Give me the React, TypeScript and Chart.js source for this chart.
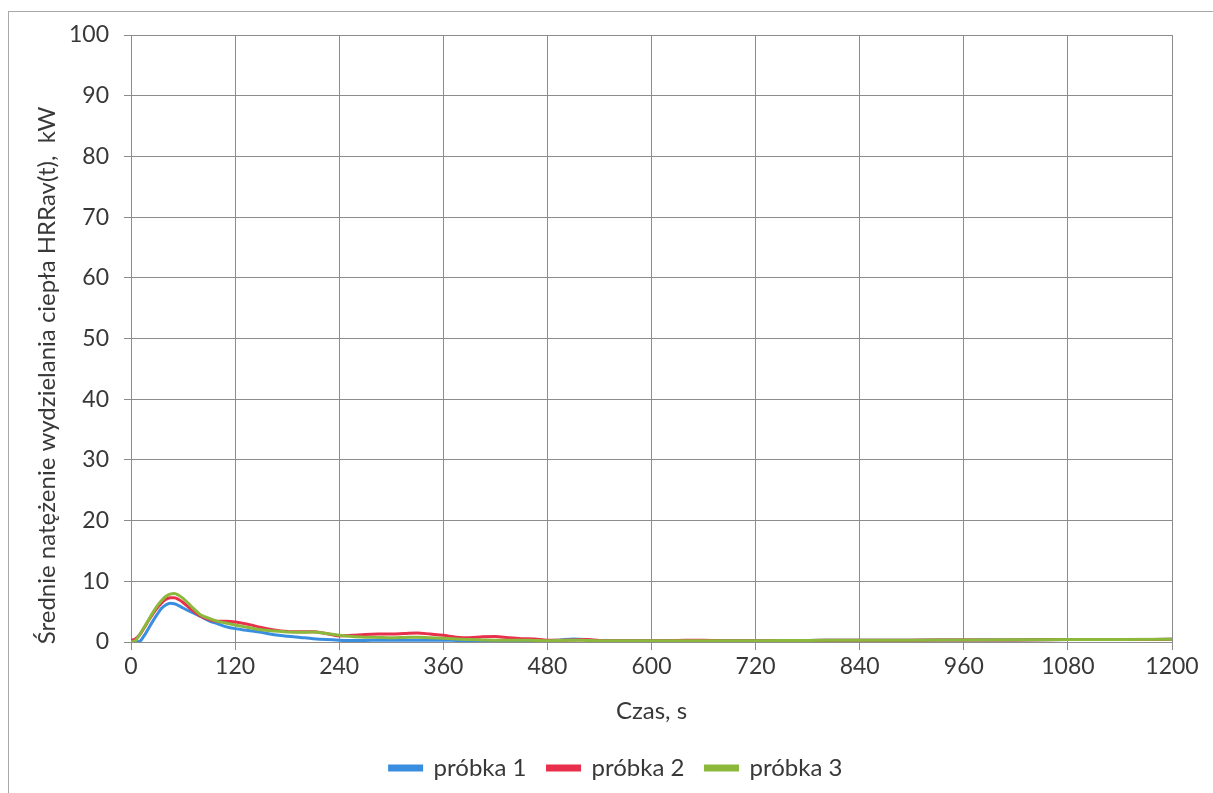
import React, { useEffect, useRef } from 'react';
import { Chart, registerables } from 'chart.js';

Chart.register(...registerables);

// Time axis (s)
const times = [
  0, 5, 10, 15, 20, 25, 30, 35, 40, 45, 50, 55, 60,
  70, 80, 90, 100, 110, 120,
  135, 150, 165, 180, 195, 210, 225, 240, 255, 270, 285, 300, 315, 330,
  345, 360, 375, 390, 405, 420, 435, 450, 465, 480, 495, 510, 525, 540,
  570, 600, 630, 660, 690, 720,
  780, 840, 900, 960, 1020, 1080, 1140, 1200,
];

// HRRav(t) values, kW
const probka1 = [
  0, 0, 0.1, 1.0, 2.2, 3.4, 4.5, 5.5, 6.1, 6.4, 6.3, 6.0, 5.6,
  4.9, 4.2, 3.5, 3.0, 2.5, 2.2,
  1.9, 1.6, 1.2, 0.95, 0.75, 0.55, 0.4, 0.3, 0.25, 0.25, 0.3, 0.3, 0.3, 0.3,
  0.3, 0.3, 0.25, 0.2, 0.2, 0.2, 0.15, 0.15, 0.15, 0.2, 0.35, 0.5, 0.4, 0.2,
  0.2, 0.2, 0.2, 0.2, 0.2, 0.2,
  0.25, 0.3, 0.3, 0.35, 0.35, 0.4, 0.4, 0.45,
];

const probka2 = [
  0.3, 0.5, 1.2, 2.3, 3.5, 4.6, 5.6, 6.4, 7.0, 7.3, 7.3, 7.0, 6.5,
  5.3, 4.3, 3.7, 3.4, 3.4, 3.3,
  2.9, 2.4, 2.0, 1.75, 1.7, 1.7, 1.4, 1.0, 1.1, 1.25, 1.3, 1.3, 1.4, 1.5,
  1.3, 1.1, 0.8, 0.7, 0.85, 0.9, 0.7, 0.55, 0.5, 0.3, 0.3, 0.35, 0.4, 0.25,
  0.2, 0.2, 0.25, 0.3, 0.2, 0.2,
  0.25, 0.3, 0.3, 0.35, 0.35, 0.4, 0.4, 0.45,
];

const probka3 = [
  0, 0.2, 1.2, 2.4, 3.6, 4.8, 5.9, 6.8, 7.5, 7.9, 8.0, 7.7, 7.2,
  5.8, 4.5, 3.9, 3.4, 3.1, 2.8,
  2.4, 2.0, 1.8, 1.65, 1.6, 1.65, 1.4, 1.1, 0.9, 0.8, 0.75, 0.7, 0.75, 0.8,
  0.7, 0.6, 0.5, 0.4, 0.35, 0.3, 0.3, 0.3, 0.25, 0.2, 0.25, 0.3, 0.25, 0.2,
  0.2, 0.2, 0.2, 0.2, 0.2, 0.22,
  0.25, 0.3, 0.3, 0.35, 0.38, 0.4, 0.42, 0.45,
];

const seriesLabels = ['próbka 1', 'próbka 2', 'próbka 3'];
const seriesColors = ['#3a8ee0', '#e8304c', '#8cb83c'];

const xMin = 0;
const xMax = 1200;
const xStep = 120;
const yMin = 0;
const yMax = 100;
const yStep = 10;

const xTitle = 'Czas, s';
const yTitle = 'Średnie natężenie wydzielania ciepła HRRav(t),  kW';

const FONT = 'Lato, Calibri, Carlito, "Open Sans", sans-serif';
const TEXT = '#383838';
const GRID = '#8c8c8c';

const yTitlePlugin = {
  id: 'yTitleCustom',
  afterDraw(chart: any) {
    const { ctx, chartArea } = chart;
    ctx.save();
    ctx.translate(47, (chartArea.top + chartArea.bottom) / 2 + 37);
    ctx.rotate(-Math.PI / 2);
    ctx.font = `24px ${FONT}`;
    ctx.fillStyle = TEXT;
    ctx.textAlign = 'center';
    ctx.textBaseline = 'middle';
    ctx.fillText(yTitle, 0, 0);
    ctx.restore();
  },
};

export default function App() {
  const canvasRef = useRef<HTMLCanvasElement | null>(null);

  useEffect(() => {
    let chart: Chart | null = null;
    let cancelled = false;
    const build = () => {
      if (cancelled || !canvasRef.current) return;
      const series = [probka1, probka2, probka3];
      chart = new Chart(canvasRef.current, {
        type: 'line',
        data: {
          datasets: series.map((vals, i) => ({
            label: seriesLabels[i],
            data: vals.map((y, j) => ({ x: times[j], y })),
            borderColor: seriesColors[i],
            backgroundColor: seriesColors[i],
            borderWidth: 3,
            pointRadius: 0,
            cubicInterpolationMode: 'monotone' as const,
            order: 3 - i,
          })),
        },
        options: {
          animation: false,
          responsive: false,
          maintainAspectRatio: false,
          layout: { padding: { left: 60, right: 41, top: 35, bottom: 3 } },
          plugins: {
            tooltip: { enabled: false },
            legend: {
              position: 'bottom',
              labels: {
                font: { family: FONT, size: 24 },
                color: TEXT,
                boxWidth: 32,
                boxHeight: 4,
                padding: 21,
                sort: (a: any, b: any) => a.datasetIndex - b.datasetIndex,
              },
            },
          },
          scales: {
            x: {
              type: 'linear',
              min: xMin,
              max: xMax,
              afterFit: (s: any) => { s.height = 93; },
              ticks: {
                stepSize: xStep,
                font: { family: FONT, size: 23 },
                color: TEXT,
                padding: 3,
                maxRotation: 0,
                callback: (v: any) => String(v),
              },
              grid: { color: GRID, lineWidth: 1, tickLength: 8, tickColor: GRID },
              border: { color: GRID, width: 1 },
              title: {
                display: true,
                text: xTitle,
                font: { family: FONT, size: 24 },
                color: TEXT,
                padding: { top: 0, bottom: 9 },
              },
            },
            y: {
              type: 'linear',
              min: yMin,
              max: yMax,
              afterFit: (s: any) => { s.width = 71; },
              ticks: {
                stepSize: yStep,
                font: { family: FONT, size: 23 },
                color: TEXT,
                padding: 15,
                callback: (v: any) => String(v),
              },
              grid: { color: GRID, lineWidth: 1, tickLength: 7, tickColor: GRID },
              border: { color: GRID, width: 1 },
              title: { display: false },
            },
          },
        },
        plugins: [yTitlePlugin],
      } as any);
    };
    const fonts: any = (document as any).fonts;
    if (fonts && fonts.load) {
      Promise.all([fonts.load(`24px Lato`), fonts.load(`23px Lato`)])
        .catch(() => null)
        .then(build);
    } else {
      build();
    }
    return () => {
      cancelled = true;
      if (chart) chart.destroy();
    };
  }, []);

  return (
    <div
      style={{
        position: 'absolute',
        left: 0,
        top: 0,
        width: 1213,
        height: 793,
        overflow: 'hidden',
        background: '#ffffff',
      }}
    >
      <div
        style={{
          position: 'absolute',
          left: 8,
          top: 11,
          width: 1220,
          height: 800,
          borderTop: '1px solid #a8a8a8',
          borderLeft: '1px solid #a8a8a8',
        }}
      />
      <canvas
        ref={canvasRef}
        width={1213}
        height={793}
        style={{ position: 'absolute', left: 0, top: 0, width: 1213, height: 793 }}
      />
    </div>
  );
}
